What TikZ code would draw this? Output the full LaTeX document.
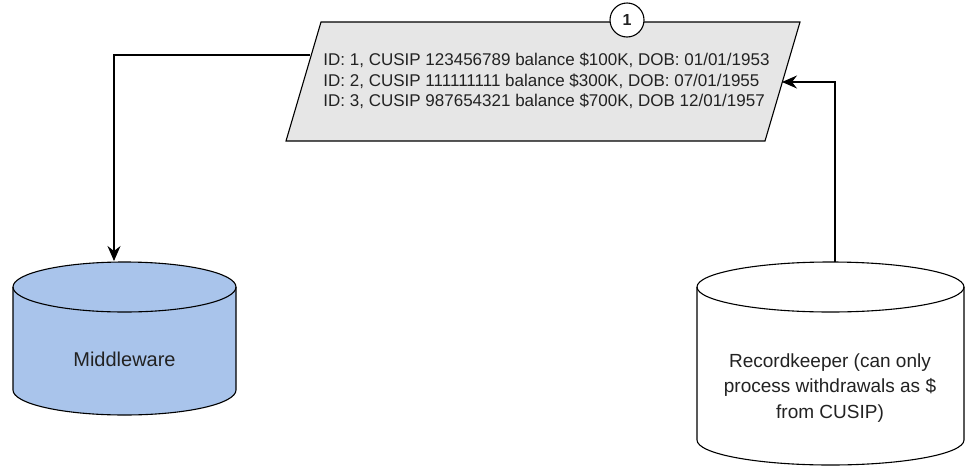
\documentclass[tikz,border=0pt]{standalone}
\usepackage{fontspec}
\setmainfont{Liberation Sans}
\usetikzlibrary{arrows.meta}
\definecolor{datafill}{HTML}{E6E6E6}
\definecolor{mwfill}{HTML}{A9C4EB}
\definecolor{txt}{HTML}{222222}
\begin{document}
\begin{tikzpicture}[x=1pt,y=-1pt,
  shapeline/.style={draw=black, line width=1.1pt},
  conn/.style={draw=black, line width=1.1pt, -{Stealth[length=15pt,width=13pt,inset=5pt]}},
  lbl/.style={text=txt, align=center, inner sep=0pt}]
\useasboundingbox (0,0) rectangle (966,469);
% data parallelogram
\coordinate (pTL) at (321,22);
\coordinate (pTR) at (800,22);
\coordinate (pBR) at (765,141);
\coordinate (pBL) at (286,141);
\draw[shapeline, fill=datafill] (pTL) -- (pTR) -- (pBR) -- (pBL) -- cycle;
\node[lbl, align=left, font=\fontsize{17}{20.5}\selectfont] (data) at (546.5,81)
  {ID: 1, CUSIP 123456789 balance \$100K, DOB: 01/01/1953\\
   ID: 2, CUSIP 111111111 balance \$300K, DOB: 07/01/1955\\
   ID: 3, CUSIP 987654321 balance \$700K, DOB 12/01/1957};
\node[draw=black, circle, line width=1.1pt, fill=white, minimum size=34pt, inner sep=0pt,
  text=txt, font=\bfseries\fontsize{16}{16}\selectfont] (stepone) at (627,20) {1};
% middleware cylinder
\draw[shapeline, fill=mwfill] (13,287) -- (13,390)
  arc[start angle=180, end angle=360, x radius=111.5pt, y radius=25pt] -- (236,287)
  arc[start angle=0, end angle=180, x radius=111.5pt, y radius=25pt] -- cycle;
\draw[shapeline] (13,287) arc[start angle=180, end angle=360, x radius=111.5pt, y radius=25pt];
\node[lbl, font=\fontsize{20}{24}\selectfont] (mw) at (124.5,359) {Middleware};
% recordkeeper cylinder
\draw[shapeline, fill=white] (697,287) -- (697,440)
  arc[start angle=180, end angle=360, x radius=133.5pt, y radius=25pt] -- (964,287)
  arc[start angle=0, end angle=180, x radius=133.5pt, y radius=25pt] -- cycle;
\draw[shapeline] (697,287) arc[start angle=180, end angle=360, x radius=133.5pt, y radius=25pt];
\node[lbl, font=\fontsize{19}{25.5}\selectfont] (rk) at (830,388)
  {Recordkeeper (can only\\process withdrawals as \$\\from CUSIP)};
% connectors
\coordinate (dataL) at (310,55);
\coordinate (mwTop) at (114,261);
\coordinate (rkTop) at (835,262);
\coordinate (dataR) at (782,82);
\draw[conn] (dataL) -| (mwTop);
\draw[conn] (rkTop) |- (dataR);
\end{tikzpicture}
\end{document}
